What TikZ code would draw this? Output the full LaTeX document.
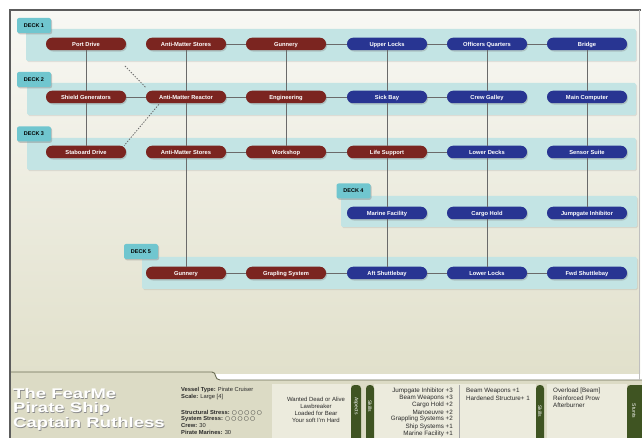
\documentclass[tikz,border=0pt]{standalone}
\usepackage{fontspec}
\setmainfont{Liberation Sans}
\newfontfamily\dejavu{DejaVu Sans}
\usetikzlibrary{shadows,calc}
\definecolor{nred}{HTML}{7B2520}
\definecolor{nblue}{HTML}{283592}
\definecolor{bandc}{HTML}{C3E4E4}
\definecolor{tabc}{HTML}{70C6CF}
\definecolor{olivec}{HTML}{3F5422}
\definecolor{linkc}{HTML}{6A6A6A}
\definecolor{bgtop}{HTML}{F8F8F4}
\definecolor{bgbot}{HTML}{E1E0CB}
\definecolor{panelc}{HTML}{DCDBC5}
\definecolor{boxc}{HTML}{ECEBDD}
\definecolor{framec}{HTML}{5C5C5C}
\definecolor{divc}{HTML}{6B6E55}
\definecolor{textc}{HTML}{2A2A2A}
\newcommand{\stressdots}{{\dejavu ○\hspace{1.2bp}○\hspace{1.2bp}○\hspace{1.2bp}○\hspace{1.2bp}○}}
\begin{document}
\begin{tikzpicture}[x=1bp,y=-1bp,
  sys/.style={rounded corners=6bp, minimum width=80bp, minimum height=12.5bp, inner sep=0pt,
    text height=4.2bp, text depth=0bp,
    text=white, font=\fontsize{5.8}{6}\selectfont\bfseries,
    drop shadow={shadow xshift=1bp, shadow yshift=-1.3bp, opacity=0.35}},
  redsys/.style={sys, fill=nred},
  bluesys/.style={sys, fill=nblue},
  link/.style={draw=linkc, line width=0.8bp},
  dlink/.style={draw=linkc, line width=0.8bp, dash pattern=on 1.4bp off 1.4bp},
  deckband/.style={fill=bandc, rounded corners=1.5bp, drop shadow={shadow xshift=1bp, shadow yshift=-1.2bp, opacity=0.18}},
  decktab/.style={fill=tabc, rounded corners=2bp, minimum width=34bp, minimum height=15bp, inner sep=0pt,
    text height=4bp, text depth=0bp,
    font=\fontsize{5.5}{6}\selectfont\bfseries, text=black,
    drop shadow={shadow xshift=1bp, shadow yshift=-1.3bp, opacity=0.4}},
  info/.style={anchor=west, inner sep=0pt, text=textc, font=\fontsize{5.8}{6}\selectfont},
  aspect/.style={anchor=center, inner sep=0pt, text=textc, font=\fontsize{6}{6}\selectfont},
  skillr/.style={anchor=east, inner sep=0pt, text=textc, font=\fontsize{6.3}{6}\selectfont},
  skilll/.style={anchor=west, inner sep=0pt, text=textc, font=\fontsize{6.3}{6}\selectfont},
  greentab/.style={fill=olivec, rounded corners=3.5bp},
  tablabel/.style={rotate=-90, inner sep=0pt, text=white, font=\fontsize{5}{5}\selectfont},
  titlet/.style={anchor=west, inner sep=0pt, font=\fontsize{14}{14}\selectfont\bfseries}
]
\useasboundingbox (0,0) rectangle (642,438);
\fill[white] (0,0) rectangle (642,438);
% background
\shade[top color=bgtop, bottom color=bgbot] (10,10) rectangle (640,373);
\fill[panelc] (10,372) -- (212,372) .. controls (217,372) and (214,380) .. (220,380) -- (642,380) -- (642,438) -- (10,438) -- cycle;
\draw[divc, line width=0.9bp] (10,372) -- (212,372) .. controls (217,372) and (214,380) .. (220,380) -- (642,380);
% frame
\draw[framec, line width=1.8bp] (10,438) -- (10,10) -- (641,10);
\draw[black!25, line width=0.8bp] (639.5,10) -- (639.5,380);

% deck bands
\fill[deckband] (26,29) rectangle (636,61);
\fill[deckband] (27,83) rectangle (636,115);
\fill[deckband] (27,138) rectangle (636,170);
\fill[deckband] (341,196) rectangle (637,227);
\fill[deckband] (142,257) rectangle (637,289);

% deck tabs
\node[decktab] (t1) at (34,25.5) {DECK 1};
\node[decktab] (t2) at (34,79.5) {DECK 2};
\node[decktab] (t3) at (34,134) {DECK 3};
\node[decktab] (t4) at (353.5,191) {DECK 4};
\node[decktab] (t5) at (141,251.5) {DECK 5};

% deck 1
\node[redsys] (pd) at (86,44) {Port Drive};
\node[redsys] (ams1) at (186,44) {Anti-Matter Stores};
\node[redsys] (gun1) at (286,44) {Gunnery};
\node[bluesys] (ul) at (387,44) {Upper Locks};
\node[bluesys] (oq) at (487,44) {Officers Quarters};
\node[bluesys] (br) at (587,44) {Bridge};
% deck 2
\node[redsys] (sg) at (86,97) {Shield Generators};
\node[redsys] (amr) at (186,97) {Anti-Matter Reactor};
\node[redsys] (eng) at (286,97) {Engineering};
\node[bluesys] (sb) at (387,97) {Sick Bay};
\node[bluesys] (cg) at (487,97) {Crew Galley};
\node[bluesys] (mc) at (587,97) {Main Computer};
% deck 3
\node[redsys] (sd) at (86,152) {Staboard Drive};
\node[redsys] (ams3) at (186,152) {Anti-Matter Stores};
\node[redsys] (ws) at (286,152) {Workshop};
\node[redsys] (ls) at (387,152) {Life Support};
\node[bluesys] (ld) at (487,152) {Lower Decks};
\node[bluesys] (ss) at (587,152) {Sensor Suite};
% deck 4
\node[bluesys] (mf) at (387,213) {Marine Facility};
\node[bluesys] (ch) at (487,213) {Cargo Hold};
\node[bluesys] (ji) at (587,213) {Jumpgate Inhibitor};
% deck 5
\node[redsys] (gun5) at (186,273) {Gunnery};
\node[redsys] (gs) at (286,273) {Grapling System};
\node[bluesys] (as) at (387,273) {Aft Shuttlebay};
\node[bluesys] (ll) at (487,273) {Lower Locks};
\node[bluesys] (fs) at (587,273) {Fwd Shuttlebay};

% horizontal links
\draw[link] (ams1) -- (gun1);
\draw[link] (gun1) -- (ul);
\draw[link] (ul) -- (oq);
\draw[link] (oq) -- (br);
\draw[link] (sg) -- (amr);
\draw[link] (amr) -- (eng);
\draw[link] (eng) -- (sb);
\draw[link] (sb) -- (cg);
\draw[link] (ams3) -- (ws);
\draw[link] (ws) -- (ls);
\draw[link] (ls) -- (ld);
\draw[link] (gun5) -- (gs);
\draw[link] (gs) -- (as);
\draw[link] (as) -- (ll);
\draw[link] (ll) -- (fs);
% vertical links
\draw[link] (pd) -- (sg);
\draw[link] (sg) -- (sd);
\draw[link] (ams1) -- (amr);
\draw[link] (amr) -- (ams3);
\draw[link] (ams3) -- (gun5);
\draw[link] (gun1) -- (eng);
\draw[link] (eng) -- (ws);
\draw[link] (ul) -- (sb);
\draw[link] (sb) -- (ls);
\draw[link] (ls) -- (mf);
\draw[link] (mf) -- (as);
\draw[link] (oq) -- (cg);
\draw[link] (cg) -- (ld);
\draw[link] (ld) -- (ch);
\draw[link] (ch) -- (ll);
\draw[link] (br) -- (mc);
\draw[link] (mc) -- (ss);
\draw[link] (ss) -- (ji);
% dashed links
\coordinate (dfree) at (125,66);
\draw[dlink] (dfree) -- ($(amr.north west)+(0,-3)$);
\draw[dlink] ($(amr.south west)+(13,1)$) -- ($(sd.north east)+(-2,0)$);

% bottom panel boxes
\fill[boxc] (272,384) rectangle (351,438);
\fill[boxc] (374,384) rectangle (536,438);
\draw[black!35, line width=1.2bp] (459.5,385) -- (459.5,438);
\fill[boxc] (547,384) rectangle (627,438);
\fill[greentab] (351,440) -- (351,385) -- (361,385) -- (361,440);
\fill[greentab] (366,440) -- (366,385) -- (374,385) -- (374,440);
\fill[greentab] (536,440) -- (536,385) -- (544,385) -- (544,440);
\fill[greentab] (627,440) -- (627,385) -- (645,385) -- (645,440);
\node[tablabel] (lasp) at (356,406) {Aspects};
\node[tablabel] (lsk1) at (370,406) {Skills};
\node[tablabel] (lsk2) at (540,411) {Skills};
\node[tablabel] (lstu) at (634,411) {Stunts};

% title
\foreach \t/\yy/\nm in {The FearMe/394/ta, Pirate Ship/409/tb, Captain Ruthless/424/tc}{
  \node[titlet, text=black!45] (\nm s) at (13.7,\yy+0.7) {\scalebox{1.33}[1]{\t}};
  \node[titlet, text=white] (\nm) at (13,\yy) {\scalebox{1.33}[1]{\t}};
}

% info
\node[info] (i1) at (181,390) {\textbf{Vessel Type:} Pirate Cruiser};
\node[info] (i2) at (181,397) {\textbf{Scale:} Large [4]};
\node[info] (i3) at (181,412.5) {\textbf{Structural Stress:} \stressdots};
\node[info] (i4) at (181,419) {\textbf{System Stress:} \stressdots};
\node[info] (i5) at (181,425.5) {\textbf{Crew:} 30};
\node[info] (i6) at (181,432) {\textbf{Pirate Marines:} 30};

% aspects
\node[aspect] (a1) at (316,399) {Wanted Dead or Alive};
\node[aspect] (a2) at (316,406) {Lawbreaker};
\node[aspect] (a3) at (316,413) {Loaded for Bear};
\node[aspect] (a4) at (316,420) {Your soft I'm Hard};

% skills
\node[skillr] (s1) at (453,391) {Jumpgate Inhibitor +3};
\node[skillr] (s2) at (453,398) {Beam Weapons +3};
\node[skillr] (s3) at (453,405) {Cargo Hold +2};
\node[skillr] (s4) at (453,412) {Manoeuvre +2};
\node[skillr] (s5) at (453,419) {Grappling Systems +2};
\node[skillr] (s6) at (453,426.5) {Ship Systems +1};
\node[skillr] (s7) at (453,434) {Marine Facility +1};

\node[skilll] (k1) at (466,391) {Beam Weapons +1};
\node[skilll] (k2) at (466,398) {Hardened Structure+ 1};

\node[skilll] (u1) at (553,391) {Overload [Beam]};
\node[skilll] (u2) at (553,398) {Reinforced Prow};
\node[skilll] (u3) at (553,405) {Afterburner};
\end{tikzpicture}
\end{document}
